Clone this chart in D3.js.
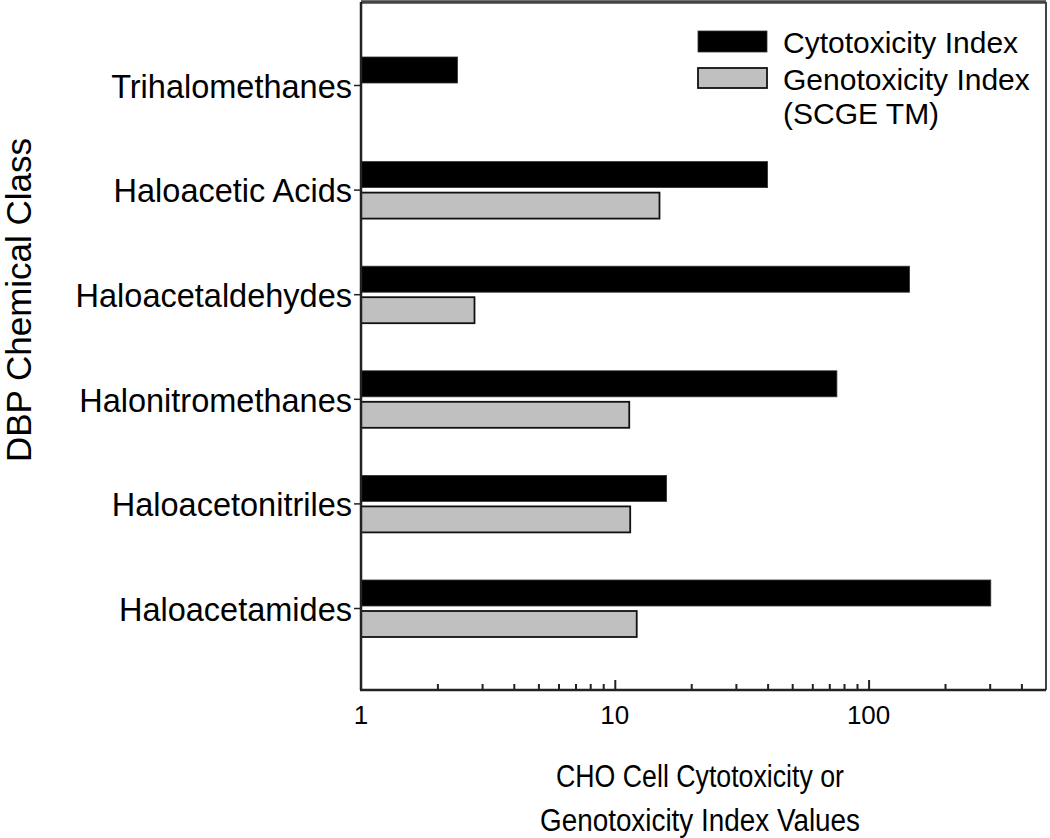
<!DOCTYPE html>
<html>
<head>
<meta charset="utf-8">
<script src="https://cdn.jsdelivr.net/npm/d3@7"></script>
<style>
  body { margin: 0; background: #fff; }
  text { font-family: "Liberation Sans", Arial, sans-serif; fill: #000; }
</style>
</head>
<body>
<svg id="chart" width="1050" height="838"></svg>
<script>
// values
const categories = ["Trihalomethanes", "Haloacetic Acids", "Haloacetaldehydes",
  "Halonitromethanes", "Haloacetonitriles", "Haloacetamides"];
const cytotoxicity = [2.4, 40, 145, 75, 16, 303];
const genotoxicity = [null, 15, 2.8, 11.4, 11.5, 12.2];
const seriesNames = ["Cytotoxicity Index", "Genotoxicity Index"];
const xTickLabels = [1, 10, 100];

const svg = d3.select("#chart");
const plotL = 361, plotR = 1046, plotT = 2, plotB = 690;

let x = d3.scaleLog().domain([1, 500]).range([plotL, plotR]);
let y = d3.scalePoint().domain(categories).range([85, 608]);
const barH = 26;

// frame
svg.append("line").attr("x1", plotL).attr("x2", plotR).attr("y1", plotT).attr("y2", plotT)
  .attr("stroke", "#444").attr("stroke-width", 3.5);
svg.append("line").attr("x1", plotR).attr("x2", plotR).attr("y1", plotT).attr("y2", plotB)
  .attr("stroke", "#444").attr("stroke-width", 2);

// bars
let rows = categories.map((c, i) => ({ c: c, cyto: cytotoxicity[i], geno: genotoxicity[i] }));

svg.selectAll(".cyto").data(rows).enter().append("rect")
  .attr("class", "cyto")
  .attr("x", x(1))
  .attr("y", d => y(d.c) - barH - 2)
  .attr("width", d => x(d.cyto) - x(1))
  .attr("height", barH)
  .attr("fill", "#000")
  .attr("stroke", "#333").attr("stroke-width", 0.8);

svg.selectAll(".geno").data(rows.filter(d => d.geno != null)).enter().append("rect")
  .attr("class", "geno")
  .attr("x", x(1))
  .attr("y", d => y(d.c) + 3)
  .attr("width", d => x(d.geno) - x(1))
  .attr("height", barH)
  .attr("fill", "#c0c0c0")
  .attr("stroke", "#111").attr("stroke-width", 1.8);

// x axis
let xAxis = d3.axisBottom(x)
  .tickValues(d3.range(2, 10).concat(d3.range(10, 100, 10), [100, 200, 300, 400]))
  .tickSizeInner(-6).tickSizeOuter(0).tickFormat("");
let gx = svg.append("g").attr("transform", `translate(0,${plotB})`).call(xAxis);
gx.select(".domain").attr("stroke", "#222").attr("stroke-width", 2.5)
  .attr("d", `M${plotL - 1},0H${plotR}`);
gx.selectAll(".tick line").attr("stroke", "#222").attr("stroke-width", 2)
  .attr("y2", d => (d === 10 || d === 100) ? -10 : -6);

svg.selectAll(".xlab").data(xTickLabels).enter().append("text")
  .attr("x", d => x(d)).attr("y", 724)
  .attr("text-anchor", "middle").attr("font-size", 26)
  .text(d => d);

// y axis
let yAxis = d3.axisLeft(y).tickSizeInner(7).tickSizeOuter(0).tickPadding(2);
let gy = svg.append("g").attr("transform", `translate(${plotL},0)`).call(yAxis);
gy.select(".domain").attr("stroke", "#222").attr("stroke-width", 2.5)
  .attr("d", `M0,${plotT}V${plotB}`);
gy.selectAll(".tick line").attr("stroke", "#222").attr("stroke-width", 1.5);
gy.selectAll(".tick text").attr("font-size", 32.5).attr("fill", "#000")
  .attr("font-family", "Liberation Sans, Arial, sans-serif").attr("dy", "0.38em");

// axis titles
svg.append("text").attr("transform", "translate(31,300) rotate(-90)")
  .attr("text-anchor", "middle").attr("font-size", 35).text("DBP Chemical Class");

svg.append("text").attr("x", 700).attr("y", 787).attr("text-anchor", "middle")
  .attr("font-size", 31).attr("textLength", 288).attr("lengthAdjust", "spacingAndGlyphs")
  .text("CHO Cell Cytotoxicity or");
svg.append("text").attr("x", 700).attr("y", 831).attr("text-anchor", "middle")
  .attr("font-size", 31).attr("textLength", 320).attr("lengthAdjust", "spacingAndGlyphs")
  .text("Genotoxicity Index Values");

// legend
let lg = svg.append("g");
lg.append("rect").attr("x", 698).attr("y", 31).attr("width", 69).attr("height", 21)
  .attr("fill", "#000").attr("stroke", "#333").attr("stroke-width", 0.8);
lg.append("rect").attr("x", 698).attr("y", 68).attr("width", 69).attr("height", 20)
  .attr("fill", "#c0c0c0").attr("stroke", "#111").attr("stroke-width", 1.8);
lg.append("text").attr("x", 783).attr("y", 53).attr("font-size", 30).text(seriesNames[0]);
lg.append("text").attr("x", 783).attr("y", 90).attr("font-size", 30).text(seriesNames[1]);
lg.append("text").attr("x", 783).attr("y", 124).attr("font-size", 30).text("(SCGE TM)");
</script>
</body>
</html>
